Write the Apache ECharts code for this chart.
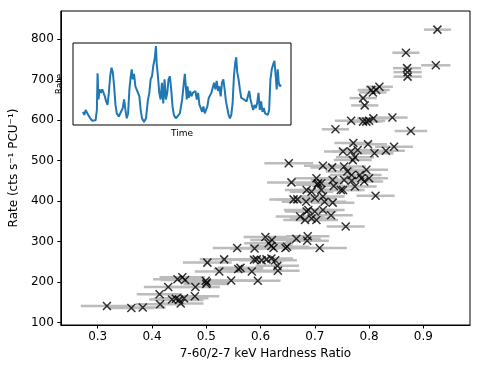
<!DOCTYPE html>
<html>
<head>
<meta charset="utf-8">
<script src="https://cdn.jsdelivr.net/npm/echarts@6/dist/echarts.min.js"></script>
<style>
  html, body { margin: 0; padding: 0; background: #fff; }
  #chart { width: 491px; height: 367px; }
</style>
</head>
<body>
<div id="chart"></div>
<script>
// hardness ratio (7-60 / 2-7 keV), its error, and count rate
const hardness = [
  0.317, 0.362, 0.383, 0.415, 0.414, 0.43, 0.447, 0.456, 0.461, 0.437,
  0.444, 0.45, 0.453, 0.459, 0.48, 0.479, 0.499, 0.5, 0.501, 0.502,
  0.524, 0.533, 0.546, 0.557, 0.559, 0.563, 0.584, 0.588, 0.589, 0.595,
  0.593, 0.602, 0.611, 0.62, 0.627, 0.631, 0.632, 0.609, 0.615, 0.621,
  0.62, 0.624, 0.646, 0.649, 0.666, 0.687, 0.686, 0.709, 0.652, 0.657,
  0.661, 0.668, 0.684, 0.7, 0.715, 0.718, 0.733, 0.688, 0.7, 0.715,
  0.73, 0.673, 0.682, 0.694, 0.703, 0.685, 0.685, 0.694, 0.712, 0.703,
  0.706, 0.733, 0.752, 0.757, 0.715, 0.732, 0.754, 0.76, 0.768, 0.783,
  0.795, 0.8, 0.812, 0.752, 0.767, 0.771, 0.779, 0.77, 0.774, 0.798,
  0.81, 0.831, 0.846, 0.738, 0.767, 0.789, 0.795, 0.8, 0.808, 0.843,
  0.877, 0.789, 0.792, 0.804, 0.807, 0.813, 0.819, 0.868, 0.87, 0.871,
  0.871, 0.923, 0.926, 0.705, 0.712, 0.735, 0.754, 0.768, 0.774, 0.786,
  0.791, 0.748
];
const hardnessErr = [
  0.048, 0.042, 0.042, 0.045, 0.042, 0.045, 0.045, 0.042, 0.045, 0.042,
  0.042, 0.045, 0.042, 0.045, 0.045, 0.045, 0.045, 0.042, 0.042, 0.045,
  0.045, 0.045, 0.045, 0.045, 0.045, 0.042, 0.045, 0.045, 0.045, 0.042,
  0.042, 0.042, 0.04, 0.04, 0.04, 0.04, 0.04, 0.04, 0.045, 0.04,
  0.04, 0.04, 0.045, 0.04, 0.045, 0.04, 0.04, 0.05, 0.045, 0.045,
  0.045, 0.04, 0.045, 0.04, 0.04, 0.04, 0.04, 0.045, 0.04, 0.04,
  0.04, 0.045, 0.04, 0.04, 0.04, 0.04, 0.04, 0.04, 0.04, 0.04,
  0.04, 0.04, 0.04, 0.035, 0.035, 0.04, 0.04, 0.04, 0.04, 0.04,
  0.04, 0.035, 0.035, 0.035, 0.035, 0.035, 0.035, 0.035, 0.035, 0.035,
  0.035, 0.035, 0.035, 0.025, 0.03, 0.03, 0.03, 0.03, 0.03, 0.028,
  0.03, 0.025, 0.025, 0.025, 0.025, 0.025, 0.025, 0.025, 0.026, 0.026,
  0.026, 0.027, 0.025, 0.04, 0.04, 0.04, 0.04, 0.04, 0.04, 0.035,
  0.035, 0.04
];
const rate = [
  141, 136, 137, 145, 170, 188, 207, 212, 205, 157,
  159, 156, 147, 160, 188, 165, 203, 195, 199, 248,
  226, 256, 204, 284, 232, 235, 226, 255, 283, 203,
  256, 254, 256, 258, 254, 240, 228, 311, 296, 304,
  289, 284, 284, 287, 307, 313, 302, 284, 493, 446,
  404, 404, 398, 407, 411, 398, 396, 378, 374, 378,
  365, 362, 353, 357, 353, 374, 427, 423, 427, 456,
  444, 452, 427, 337, 487, 483, 485, 473, 464, 464,
  477, 456, 413, 522, 522, 543, 526, 501, 508, 540,
  518, 524, 534, 577, 598, 596, 596, 598, 604, 606,
  573, 654, 636, 674, 668, 674, 682, 766, 728, 718,
  707, 735, 823, 440, 444, 437, 452, 450, 436, 456,
  448, 427
];

// inset light curve (arbitrary time / rate units)
const lcTime = [
  0, 4, 8, 12, 16, 22, 28, 34, 38, 42, 44, 47, 50, 54, 58, 62, 66, 70, 74, 78,
  82, 86, 90, 94, 98, 102, 108, 114, 120, 124, 128, 132, 136, 140, 144, 147, 150, 154, 158, 162,
  166, 170, 174, 178, 184, 190, 196, 200, 204, 208, 212, 216, 220, 222, 226, 230, 234, 238, 242, 246,
  250, 254, 258, 262, 266, 270, 274, 280, 286, 292, 299, 303, 307, 310, 313, 315, 319, 323, 327, 331,
  335, 339, 343, 347, 351, 355, 359, 363, 367, 371, 375, 379, 383, 387, 391, 395, 399, 403, 407, 411,
  415, 419, 423, 427, 431, 435, 439, 443, 447, 451, 455, 459, 462, 465, 469, 473, 477, 481, 485, 489,
  493, 497, 501, 505, 509, 513, 517, 521, 525, 529, 533, 537, 541, 545, 549, 553, 557, 561, 565, 569,
  573, 577, 581, 584, 587, 590, 593, 597
];
const lcRate = [
  15, 11, 17.5, 20, 11, 6.6, 3.5, 2, 4, 17.5, 65, 31, 44, 39.5, 44, 39.5, 35, 28.5, 24, 39.5,
  61, 72, 66, 48, 24, 13, 9, 11, 20, 31, 17.5, 6.6, 13, 44, 61, 70, 57, 64, 48, 50,
  39.5, 35, 17.5, 6.6, 2, 6.6, 31, 39.5, 57, 61, 74.5, 83, 100, 79, 61, 39.5, 31, 52.6, 26, 57,
  31, 39.5, 57, 61, 44, 22, 11, 6.6, 6.6, 13, 31, 48, 64, 48, 31, 48, 33, 42, 35, 39.5,
  37, 42, 31, 39.5, 24, 20, 15, 22, 13, 17.5, 22, 33, 35, 39.5, 46, 52.6, 44, 55, 42, 48,
  35, 52.6, 57, 44, 28.5, 20, 11, 6.6, 11, 26, 61, 79, 85.5, 66, 57, 44, 33, 35, 31, 33,
  28.5, 35, 42, 31, 24, 17.5, 24, 20, 26, 39.5, 17.5, 28.5, 15, 20, 13, 15, 11, 17.5, 57, 70,
  76, 81, 61, 44, 70, 52.6, 48, 50
];

const xTicks = [0.3, 0.4, 0.5, 0.6, 0.7, 0.8, 0.9];
const yTicks = [100, 200, 300, 400, 500, 600, 700, 800];

const chart = echarts.init(document.getElementById('chart'), null, { renderer: 'canvas' });

const font = 'DejaVu Sans';
const points = hardness.map((h, i) => [h, rate[i], hardnessErr[i]]);

const option = {
  animation: false,
  backgroundColor: '#fff',
  grid: [
    { left: 48, right: 21, top: 11, bottom: 42, show: true, borderColor: '#000', borderWidth: 1 },
    { left: 73, top: 43, width: 218, height: 82, show: true, backgroundColor: '#fff', borderColor: '#000', borderWidth: 1, z: 5 }
  ],
  xAxis: [
    {
      gridIndex: 0, type: 'value', min: 0.232, max: 0.986,
      name: '7-60/2-7 keV Hardness Ratio', nameLocation: 'middle', nameGap: 21,
      nameTextStyle: { fontFamily: font, fontSize: 12, color: '#000' },
      axisLine: { lineStyle: { color: '#000', width: 1 } },
      axisTick: { customValues: xTicks, length: 3.5, lineStyle: { color: '#000' } },
      axisLabel: { customValues: xTicks, margin: 6, fontFamily: font, fontSize: 12, color: '#000',
        formatter: v => v.toFixed(1) },
      splitLine: { show: false }
    },
    {
      gridIndex: 1, type: 'value', min: -30, max: 627,
      name: 'Time', nameLocation: 'middle', nameGap: 4,
      nameTextStyle: { fontFamily: font, fontSize: 9, color: '#000' },
      axisLine: { show: false }, axisTick: { show: false }, axisLabel: { show: false },
      splitLine: { show: false }
    }
  ],
  yAxis: [
    {
      gridIndex: 0, type: 'value', min: 94, max: 869,
      name: 'Rate (cts s⁻¹ PCU⁻¹)', nameLocation: 'middle', nameGap: 34,
      nameTextStyle: { fontFamily: font, fontSize: 12, color: '#000' },
      axisLine: { show: true, lineStyle: { color: '#000', width: 1 } },
      axisTick: { show: true, customValues: yTicks, length: 3.5, lineStyle: { color: '#000' } },
      axisLabel: { customValues: yTicks, margin: 7, fontFamily: font, fontSize: 12, color: '#000' },
      splitLine: { show: false }
    },
    {
      gridIndex: 1, type: 'value', min: -2, max: 104,
      name: 'Rate', nameLocation: 'middle', nameGap: 9,
      nameTextStyle: { fontFamily: font, fontSize: 9, color: '#000' },
      axisLine: { show: false }, axisTick: { show: false }, axisLabel: { show: false },
      splitLine: { show: false }
    }
  ],
  series: [
    {
      // horizontal error bars
      type: 'custom',
      xAxisIndex: 0, yAxisIndex: 0,
      data: points,
      encode: { x: 0, y: 1 },
      z: 2,
      renderItem: function (params, api) {
        const y = api.value(1);
        const lo = api.coord([api.value(0) - api.value(2), y]);
        const hi = api.coord([api.value(0) + api.value(2), y]);
        return {
          type: 'line',
          shape: { x1: lo[0], y1: lo[1], x2: hi[0], y2: hi[1] },
          style: { stroke: '#bcbcbc', lineWidth: 2.5 }
        };
      }
    },
    {
      type: 'scatter',
      xAxisIndex: 0, yAxisIndex: 0,
      data: points.map(p => [p[0], p[1]]),
      symbol: 'path://M0,0L10,10M10,0L0,10',
      symbolSize: 8,
      itemStyle: { color: 'none', borderColor: '#000', borderWidth: 1.5 },
      z: 3
    },
    {
      type: 'line',
      xAxisIndex: 1, yAxisIndex: 1,
      data: lcTime.map((t, i) => [t, lcRate[i]]),
      showSymbol: false,
      lineStyle: { color: '#1f77b4', width: 2 },
      z: 6
    }
  ]
};

chart.setOption(option);
</script>
</body>
</html>
